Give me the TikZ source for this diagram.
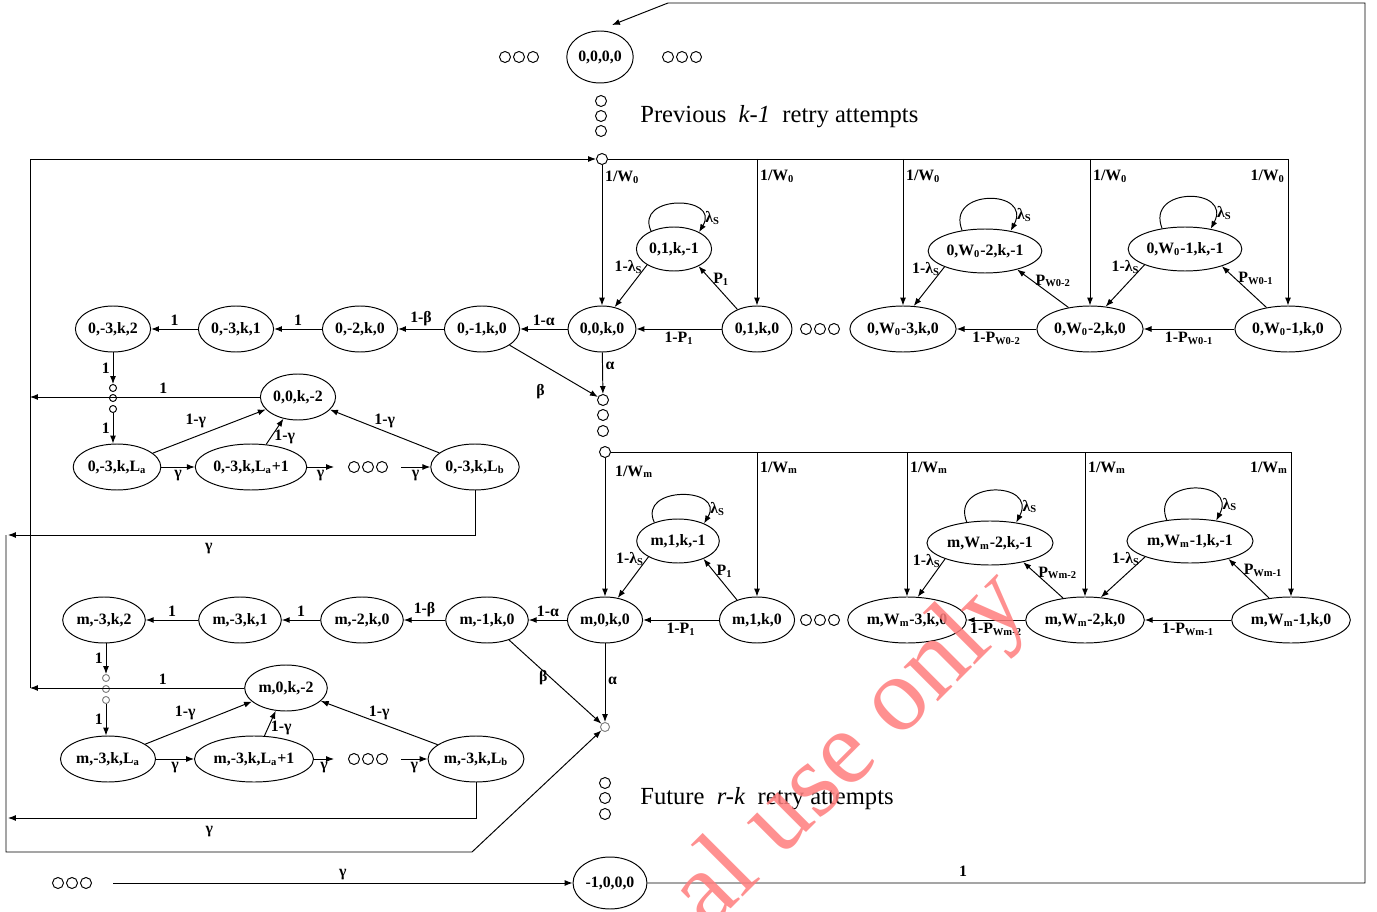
\documentclass[tikz,border=0pt]{standalone}
\usepackage{fontspec}
\setmainfont{Liberation Serif}
\usetikzlibrary{arrows.meta,shapes.geometric}
\definecolor{wmred}{RGB}{255,125,125}
\tikzset{
  statebox/.style={draw, ellipse, inner sep=1pt, minimum width=#1,
    minimum height=0.92cm, font=\fontsize{9}{10}\selectfont\bfseries},
  statebox/.default=1.44cm,
  holdbox/.style={statebox=#1, minimum height=0.88cm},
  lbl/.style={font=\fontsize{9}{10}\selectfont\bfseries, inner sep=1.5pt},
  arr/.style={-{Latex[length=4.5pt,width=3.4pt]}},
  dotc/.style={draw, circle, inner sep=0pt, minimum size=0.22cm},
  dotsm/.style={draw, circle, inner sep=0pt, minimum size=0.14cm},
  note/.style={font=\fontsize{14}{16}\selectfont, anchor=west},
}
\newcommand{\lS}{λ\textsubscript{S}}
\newcommand{\Wz}{W\textsubscript{0}}
\newcommand{\Wm}{W\textsubscript{m}}

\begin{document}
\begin{tikzpicture}[x=0.02cm, y=-0.02cm, line width=0.55pt]
  \useasboundingbox (0,0) rectangle (1377,912);

  % Initial and final states
  \node[statebox=1.32cm, minimum height=1.04cm] (init) at (600,57) {0,0,0,0};
  \node[statebox=1.32cm, minimum height=1.04cm] (fail) at (610,883) {-1,0,0,0};
  \foreach \i/\x in {1/505,2/519,3/533} \node[dotc] (tl\i) at (\x,57) {};
  \foreach \i/\x in {1/668,2/682,3/696} \node[dotc] (tr\i) at (\x,57) {};
  \foreach \i/\x in {1/58,2/72,3/86} \node[dotc] (bl\i) at (\x,883) {};
  \coordinate (bstart) at (113,883);
  \coordinate (initin) at (612,25);
  \draw[arr] (bstart) -- node[lbl, midway, above] {γ} (fail);
  \draw[arr] (fail.east) -- node[lbl, pos=0.44, above=2pt] {1} (1365,883)
    -- (1365,3) -- (668,3) -- (initin);

  % Previous attempts
  \foreach \i/\y in {1/101,2/116,3/131} \node[dotc] (pv\i) at (601,\y) {};
  \node[note] (prev) at (634,117) {Previous\ \ \textit{k-1}\ \ retry attempts};

  % Stage 0: back-off states
  \node[dotc] (c0) at (602,159) {};
  \node[statebox=1.36cm] (s00) at (602,329) {0,0,k,0};
  \node[statebox=1.40cm] (s01) at (757,329) {0,1,k,0};
  \node[statebox=2.12cm] (s03) at (903,329) {0,\Wz-3,k,0};
  \node[statebox=2.08cm] (s02) at (1090,329) {0,\Wz-2,k,0};
  \node[statebox=2.08cm] (s0l) at (1288,329) {0,\Wz-1,k,0};
  \node[holdbox=1.44cm] (u01) at (674,249) {0,1,k,-1};
  \node[holdbox=2.04cm] (u02) at (985,251) {0,\Wz-2,k,-1};
  \node[holdbox=2.08cm] (u0l) at (1185,249) {0,\Wz-1,k,-1};
  \foreach \i/\x in {1/806,2/820,3/834} \node[dotc] (h0\i) at (\x,329) {};

  \draw (c0) -- (s0l.north |- c0);
  \draw[arr] (c0) -- node[lbl, pos=0.09, right] {1/\Wz} (s00);
  \foreach \n in {s01,s03,s02}
    \draw[arr] (\n.north |- c0) -- node[lbl, pos=0.12, right] {1/\Wz} (\n.north);
  \draw[arr] (s0l.north |- c0) -- node[lbl, pos=0.12, left] {1/\Wz} (s0l.north);

  \draw[arr] (u01.south west) -- node[lbl, pos=0.05, left] {1-\lS} (s00.60);
  \draw[arr] (s01.135) -- node[lbl, pos=0.7, right] {P\textsubscript{1}} (u01.-35);
  \draw[arr] (s01) -- node[lbl, midway, below] {1-P\textsubscript{1}} (s00);
  \draw[arr] (u01.142) .. controls +(-17,-37) and +(22,-37) .. node[lbl, pos=0.85, right] {\lS} (u01.34);

  \draw[arr] (u02.south west) -- node[lbl, pos=0.05, left] {1-\lS} (s03.65);
  \draw[arr] (s02.135) -- node[lbl, pos=0.7, right] {P\textsubscript{W0-2}} (u02.-30);
  \draw[arr] (s02) -- node[lbl, midway, below] {1-P\textsubscript{W0-2}} (s03);
  \draw[arr] (u02.138) .. controls +(-17,-42) and +(22,-42) .. node[lbl, pos=0.85, right] {\lS} (u02.38);

  \draw[arr] (u0l.south west) -- node[lbl, pos=0.05, left] {1-\lS} (s02.55);
  \draw[arr] (s0l.135) -- node[lbl, pos=0.7, right] {P\textsubscript{W0-1}} (u0l.-25);
  \draw[arr] (s0l) -- node[lbl, midway, below] {1-P\textsubscript{W0-1}} (s02);
  \draw[arr] (u0l.138) .. controls +(-17,-42) and +(22,-42) .. node[lbl, pos=0.85, right] {\lS} (u0l.38);

  % Stage 0: transmission chain
  \node[statebox] (n01) at (482,329) {0,-1,k,0};
  \node[statebox] (n02) at (360,329) {0,-2,k,0};
  \node[statebox] (n031) at (236,329) {0,-3,k,1};
  \node[statebox] (n032) at (113,329) {0,-3,k,2};
  \node[statebox] (f0) at (298,397) {0,0,k,-2};
  \node[statebox=1.64cm] (la0) at (117,467) {0,-3,k,L\textsubscript{a}};
  \node[statebox=2.04cm] (la10) at (251,467) {0,-3,k,L\textsubscript{a}+1};
  \node[statebox=1.72cm] (lb0) at (475,467) {0,-3,k,L\textsubscript{b}};
  \foreach \i/\y in {1/388,2/398,3/409} \node[dotsm] (vd\i) at (113,\y) {};
  \foreach \i/\x in {1/354,2/368,3/382} \node[dotc] (hl0\i) at (\x,467) {};
  \foreach \i/\y in {1/400,2/415,3/431} \node[dotc] (b\i) at (603,\y) {};
  \coordinate (g0a) at (334,467);
  \coordinate (g0b) at (401,467);

  \draw[arr] (s00) -- node[lbl, midway, above] {1-α} (n01);
  \draw[arr] (n01) -- node[lbl, midway, above] {1-β} (n02);
  \draw[arr] (n02) -- node[lbl, midway, above] {1} (n031);
  \draw[arr] (n031) -- node[lbl, midway, above] {1} (n032);
  \draw[arr] (n032) -- node[lbl, midway, left] {1} (vd1);
  \draw[arr] (vd3) -- node[lbl, midway, left] {1} (vd3 |- la0.north);
  \draw[arr] (s00) -- node[lbl, pos=0.33, right] {α} (b1);
  \draw[arr] (n01) -- node[lbl, pos=0.35, yshift=-0.56cm] {β} (b1);
  \draw[arr] (la0) -- node[lbl, midway, below] {γ} (la10);
  \draw[arr] (la10) -- node[lbl, midway, below] {γ} (g0a);
  \draw[arr] (g0b) -- node[lbl, midway, below] {γ} (lb0);
  \draw[arr] (la0) -- node[lbl, midway, above left] {1-γ} (f0);
  \draw[arr] (la10) -- node[lbl, pos=0.3, right] {1-γ} (f0);
  \draw[arr] (lb0) -- node[lbl, midway, above] {1-γ} (f0);

  % Stage m: back-off states
  \node[dotc] (c1) at (605,452) {};
  \node[statebox=1.40cm] (m00) at (605,620) {m,0,k,0};
  \node[statebox=1.44cm] (m01) at (757,620) {m,1,k,0};
  \node[statebox=2.28cm] (m03) at (907,620) {m,\Wm-3,k,0};
  \node[statebox=2.20cm] (m02) at (1085,620) {m,\Wm-2,k,0};
  \node[statebox=2.24cm] (mml) at (1291,620) {m,\Wm-1,k,0};
  \node[holdbox=1.60cm] (um1) at (678,541) {m,1,k,-1};
  \node[holdbox=2.20cm] (um2) at (990,543) {m,\Wm-2,k,-1};
  \node[holdbox=2.20cm] (uml) at (1190,541) {m,\Wm-1,k,-1};
  \foreach \i/\x in {1/806,2/820,3/834} \node[dotc] (hm\i) at (\x,620) {};

  \draw (c1) -- (mml.north |- c1);
  \draw[arr] (c1) -- node[lbl, pos=0.1, right=4pt] {1/\Wm} (m00);
  \foreach \n in {m01,m03,m02}
    \draw[arr] (\n.north |- c1) -- node[lbl, pos=0.11, right] {1/\Wm} (\n.north);
  \draw[arr] (mml.north |- c1) -- node[lbl, pos=0.11, left] {1/\Wm} (mml.north);

  \draw[arr] (um1.south west) -- node[lbl, pos=0.05, left] {1-\lS} (m00.60);
  \draw[arr] (m01.135) -- node[lbl, pos=0.7, right] {P\textsubscript{1}} (um1.-35);
  \draw[arr] (m01) -- node[lbl, midway, below] {1-P\textsubscript{1}} (m00);
  \draw[arr] (um1.142) .. controls +(-17,-37) and +(22,-37) .. node[lbl, pos=0.85, right] {\lS} (um1.34);

  \draw[arr] (um2.south west) -- node[lbl, pos=0.05, left] {1-\lS} (m03.65);
  \draw[arr] (m02.135) -- node[lbl, pos=0.7, right] {P\textsubscript{Wm-2}} (um2.-30);
  \draw[arr] (m02) -- node[lbl, midway, below] {1-P\textsubscript{Wm-2}} (m03);
  \draw[arr] (um2.138) .. controls +(-17,-42) and +(22,-42) .. node[lbl, pos=0.85, right] {\lS} (um2.38);

  \draw[arr] (uml.south west) -- node[lbl, pos=0.05, left] {1-\lS} (m02.55);
  \draw[arr] (mml.135) -- node[lbl, pos=0.7, right] {P\textsubscript{Wm-1}} (uml.-25);
  \draw[arr] (mml) -- node[lbl, midway, below] {1-P\textsubscript{Wm-1}} (m02);
  \draw[arr] (uml.138) .. controls +(-17,-42) and +(22,-42) .. node[lbl, pos=0.85, right] {\lS} (uml.38);

  % Stage m: transmission chain
  \node[statebox=1.60cm] (mn1) at (487,620) {m,-1,k,0};
  \node[statebox=1.60cm] (mn2) at (362,620) {m,-2,k,0};
  \node[statebox=1.60cm] (mn31) at (240,620) {m,-3,k,1};
  \node[statebox=1.60cm] (mn32) at (104,620) {m,-3,k,2};
  \node[statebox=1.60cm] (fm) at (286,688) {m,0,k,-2};
  \node[statebox=1.68cm] (lam) at (108,759) {m,-3,k,L\textsubscript{a}};
  \node[statebox=2.24cm] (la1m) at (254,759) {m,-3,k,L\textsubscript{a}+1};
  \node[statebox=1.80cm] (lbm) at (476,759) {m,-3,k,L\textsubscript{b}};
  \foreach \i/\y in {1/678,2/689,3/700} \node[dotsm, draw=gray] (vm\i) at (106,\y) {};
  \foreach \i/\x in {1/354,2/368,3/382} \node[dotc] (hlm\i) at (\x,759) {};
  \node[dotc, draw=gray, minimum size=0.18cm] (cm) at (605,727) {};
  \coordinate (gma) at (334,759);
  \coordinate (gmb) at (401,759);

  \draw[arr] (m00) -- node[lbl, midway, above] {1-α} (mn1);
  \draw[arr] (mn1) -- node[lbl, midway, above] {1-β} (mn2);
  \draw[arr] (mn2) -- node[lbl, midway, above] {1} (mn31);
  \draw[arr] (mn31) -- node[lbl, midway, above] {1} (mn32);
  \draw[arr] (mn32.south -| vm1) -- node[lbl, midway, left] {1} (vm1);
  \draw[arr] (vm3) -- node[lbl, midway, left] {1} (vm3 |- lam.north);
  \draw[arr] (m00) -- node[lbl, pos=0.48, right] {α} (cm);
  \draw[arr] (mn1) -- node[lbl, pos=0.45, left] {β} (cm);
  \draw[arr] (lam) -- node[lbl, midway, below] {γ} (la1m);
  \draw[arr] (la1m) -- node[lbl, midway, below] {γ} (gma);
  \draw[arr] (gmb) -- node[lbl, midway, below] {γ} (lbm);
  \draw[arr] (lam) -- node[lbl, midway, above left] {1-γ} (fm);
  \draw[arr] (la1m) -- node[lbl, pos=0.3, right] {1-γ} (fm);
  \draw[arr] (lbm) -- node[lbl, midway, above] {1-γ} (fm);

  % Return paths
  \coordinate (ret0) at (30,397);
  \coordinate (retm) at (30,688);
  \coordinate (out0) at (8,535);
  \coordinate (outm) at (8,818);
  \draw[arr] (f0) -- node[lbl, pos=0.42, above] {1} (ret0);
  \draw[arr] (fm) -- node[lbl, pos=0.38, above] {1} (retm);
  \draw[arr] (retm) -- (ret0 |- c0) -- (c0);
  \draw[arr] (lb0.south) -- (lb0.south |- out0) -- node[lbl, pos=0.57, below=3pt] {γ} (out0);
  \draw[arr] (lbm.south) -- (lbm.south |- outm) -- node[lbl, pos=0.57, below=3pt] {γ} (outm);
  \draw[arr] (6,535) -- (6,852) -- (472,852) -- (cm);

  % Future attempts
  \foreach \i/\y in {1/783,2/798,3/814} \node[dotc] (fu\i) at (605,\y) {};
  \node[note] (fut) at (634,799) {Future\ \ \textit{r-k}\ \ retry attempts};

  % Watermark
  \node[rotate=45, text=wmred, text opacity=0.85, font=\fontsize{60}{62}\selectfont] (wm) at (852,752) {al use only};
\end{tikzpicture}
\end{document}
